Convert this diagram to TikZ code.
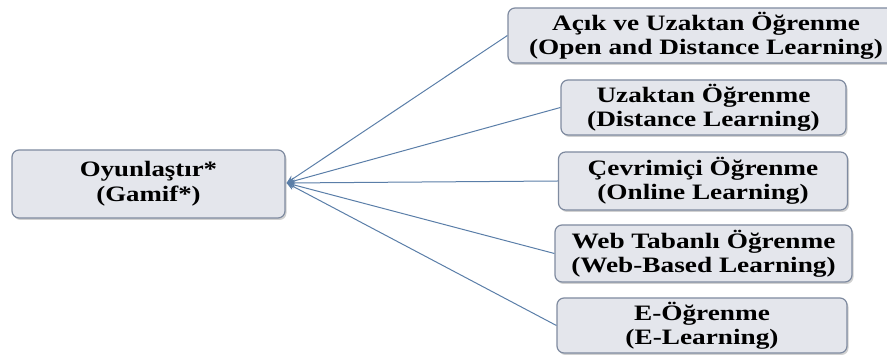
\documentclass[tikz,border=0pt]{standalone}
\usepackage{fontspec}
\setmainfont{Liberation Serif}
\newfontfamily\rfont[FakeStretch=1.24]{Liberation Serif}
\newfontfamily\lfont[FakeStretch=1.22]{Liberation Serif}
\usetikzlibrary{shadows,arrows.meta}
\definecolor{boxfill}{HTML}{E4E6EC}
\definecolor{boxdraw}{HTML}{7F8BA0}
\definecolor{linkcol}{HTML}{5A7EA8}
\tikzset{
  tbox/.style={draw=boxdraw, line width=1.2pt, fill=boxfill, rounded corners=7pt,
    align=center, inner sep=0pt,
    drop shadow={shadow xshift=1.5pt, shadow yshift=-2pt, fill=gray!60, opacity=0.6}},
  rtext/.style={font=\rfont\bfseries\fontsize{22}{24}\selectfont},
  ltext/.style={font=\lfont\bfseries\fontsize{22}{25}\selectfont},
  link/.style={draw=linkcol, line width=1pt}
}
\begin{document}
\begin{tikzpicture}[x=1pt,y=1pt]
\useasboundingbox (0,0) rectangle (887,356);
\node[tbox, ltext, minimum width=273pt, minimum height=68pt] (g) at (148.5,172) {Oyunlaştır*\\(Gamif*)};
\node[tbox, rtext, minimum width=396pt, minimum height=55pt] (a) at (706,320.5) {Açık ve Uzaktan Öğrenme\\(Open and Distance Learning)};
\node[tbox, rtext, minimum width=285pt, minimum height=55pt] (b) at (703.5,248.5) {Uzaktan Öğrenme\\(Distance Learning)};
\node[tbox, rtext, minimum width=289pt, minimum height=58pt] (c) at (703,175) {Çevrimiçi Öğrenme\\(Online Learning)};
\node[tbox, rtext, minimum width=297pt, minimum height=57pt] (d) at (703.5,102.5) {Web Tabanlı Öğrenme\\(Web-Based Learning)};
\node[tbox, rtext, minimum width=290pt, minimum height=55pt] (e) at (702,30.5) {E-Öğrenme\\(E-Learning)};
\coordinate (tip) at ([xshift=1pt,yshift=1pt]g.east);
\foreach \n in {a,b,c,d,e}{
  \draw[link, -{Stealth[length=8pt,width=7pt]}] (\n.west) -- (tip);
}
\end{tikzpicture}
\end{document}
